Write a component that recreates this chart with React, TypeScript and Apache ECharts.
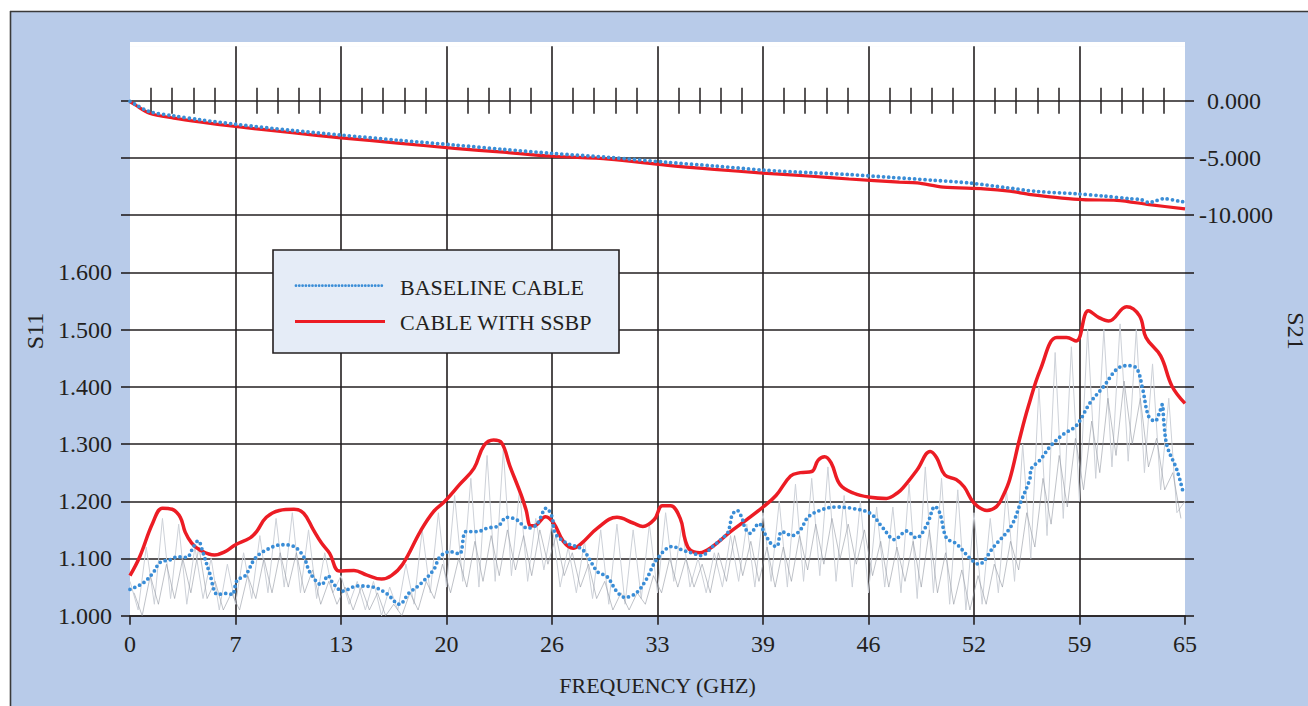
import React, { useEffect, useRef } from "react";
import * as echarts from "echarts";

// ---------- DATA ----------
// S11 – cable with SSBP (red, smooth)
const s11RedFreq = [0, 0.6, 1.4, 2.0, 2.6, 3.1, 3.4, 3.8, 4.3, 5.2, 5.8, 6.5, 7.4, 7.8, 8.4, 9.2, 10.1, 10.7, 11.3, 11.8, 12.3, 12.9, 13.8, 14.6, 15.5, 16.1, 16.8, 17.9, 18.7, 19.4, 20.3, 21.2, 21.8, 22.4, 22.9, 23.4, 24.1, 24.4, 24.7, 25.0, 25.6, 26.1, 26.7, 27.3, 27.8, 28.8, 30.0, 31.0, 31.6, 32.3, 32.8, 33.3, 33.9, 34.2, 34.5, 35.1, 35.9, 37.0, 38.0, 39.0, 39.8, 40.7, 41.3, 42.0, 42.4, 42.8, 43.2, 43.75, 44.6, 45.6, 46.6, 47.3, 47.7, 48.5, 49.3, 49.7, 50.2, 50.9, 51.4, 52.0, 52.8, 53.4, 53.8, 54.2, 54.8, 55.35, 56.1, 57.1, 57.7, 58.3, 59.05, 59.7, 60.3, 61.4, 62.2, 62.6, 63.5, 64.2, 65.0];
const s11RedVal = [1.070, 1.103, 1.162, 1.188, 1.186, 1.172, 1.146, 1.127, 1.115, 1.106, 1.111, 1.124, 1.136, 1.147, 1.172, 1.184, 1.186, 1.179, 1.150, 1.127, 1.109, 1.078, 1.079, 1.071, 1.064, 1.070, 1.090, 1.148, 1.182, 1.200, 1.229, 1.258, 1.297, 1.307, 1.302, 1.262, 1.211, 1.185, 1.157, 1.158, 1.173, 1.162, 1.130, 1.118, 1.126, 1.153, 1.172, 1.162, 1.156, 1.168, 1.192, 1.192, 1.170, 1.133, 1.115, 1.110, 1.121, 1.147, 1.168, 1.190, 1.210, 1.244, 1.250, 1.252, 1.272, 1.278, 1.267, 1.229, 1.214, 1.207, 1.205, 1.215, 1.226, 1.255, 1.287, 1.276, 1.246, 1.238, 1.225, 1.197, 1.184, 1.191, 1.210, 1.238, 1.308, 1.366, 1.431, 1.486, 1.486, 1.480, 1.533, 1.521, 1.515, 1.540, 1.524, 1.486, 1.454, 1.401, 1.371];

// S11 – baseline cable (blue, dotted)
const s11BlueFreq = [0, 0.8, 1.4, 1.85, 2.5, 2.9, 3.5, 3.9, 4.2, 4.5, 4.9, 5.4, 6.0, 6.3, 6.6, 7.1, 7.7, 8.4, 9.35, 10.1, 10.7, 11.1, 11.8, 12.2, 12.5, 13.1, 14.0, 15.0, 15.8, 16.6, 17.2, 17.8, 18.7, 19.1, 19.7, 20.3, 20.7, 21.4, 22.0, 22.7, 23.2, 23.8, 24.5, 25.05, 25.65, 26.0, 26.2, 26.9, 27.9, 28.8, 29.4, 30.0, 30.5, 31.2, 31.8, 32.45, 33.4, 34.1, 34.7, 35.2, 35.9, 36.8, 36.95, 37.1, 37.4, 37.7, 37.9, 38.2, 38.75, 39.1, 39.55, 39.85, 40.15, 40.8, 41.3, 41.8, 42.7, 43.5, 44.4, 45.6, 46.4, 47.1, 47.85, 48.45, 49.1, 49.6, 49.9, 50.3, 50.9, 51.8, 52.3, 53.2, 54.3, 54.9, 55.45, 55.5, 56.1, 56.7, 57.5, 58.3, 59.15, 60.0, 60.8, 61.4, 62.0, 62.4, 62.75, 63.15, 63.45, 63.6, 63.7, 63.9, 64.5, 64.9];
const s11BlueVal = [1.046, 1.057, 1.074, 1.093, 1.098, 1.103, 1.102, 1.120, 1.131, 1.110, 1.075, 1.037, 1.039, 1.037, 1.062, 1.070, 1.100, 1.115, 1.124, 1.121, 1.103, 1.075, 1.054, 1.070, 1.057, 1.043, 1.052, 1.050, 1.039, 1.020, 1.040, 1.053, 1.080, 1.103, 1.112, 1.108, 1.147, 1.147, 1.153, 1.157, 1.172, 1.168, 1.153, 1.159, 1.188, 1.173, 1.144, 1.127, 1.115, 1.077, 1.068, 1.042, 1.032, 1.040, 1.063, 1.098, 1.121, 1.114, 1.109, 1.105, 1.121, 1.144, 1.156, 1.176, 1.184, 1.171, 1.153, 1.144, 1.161, 1.144, 1.124, 1.121, 1.147, 1.140, 1.150, 1.173, 1.186, 1.190, 1.188, 1.179, 1.153, 1.133, 1.148, 1.136, 1.159, 1.191, 1.179, 1.136, 1.126, 1.099, 1.090, 1.120, 1.157, 1.200, 1.240, 1.255, 1.273, 1.296, 1.317, 1.332, 1.372, 1.401, 1.431, 1.437, 1.433, 1.395, 1.349, 1.340, 1.357, 1.369, 1.337, 1.296, 1.255, 1.214];

// S21 (right axis, dB)
const s21BlueFreq = [0, 0.3, 1.2, 2.7, 4.3, 6.5, 10, 13, 16.5, 20, 23, 26, 29.5, 33, 36, 39, 42, 44.3, 46.8, 49.5, 51.8, 54, 55.9, 58.3, 60, 61.6, 62.3, 62.8, 63.2, 63.7, 64.7, 65];
const s21BlueVal = [-0.05, -0.3, -0.95, -1.32, -1.66, -2.05, -2.6, -3.0, -3.45, -3.87, -4.25, -4.6, -4.95, -5.37, -5.7, -6.06, -6.3, -6.45, -6.69, -6.95, -7.2, -7.6, -7.93, -8.13, -8.33, -8.56, -8.65, -8.9, -8.75, -8.56, -8.79, -8.85];
const s21RedFreq = [0, 0.3, 1.2, 2.7, 4.3, 6.5, 10, 13, 16.5, 20, 23, 26, 29.5, 33, 36, 39, 42, 44.3, 47.4, 48.5, 50.1, 52.6, 54.2, 55.5, 58.7, 60.8, 62.8, 65];
const s21RedVal = [-0.1, -0.35, -1.09, -1.52, -1.86, -2.25, -2.8, -3.24, -3.7, -4.16, -4.5, -4.85, -5.1, -5.63, -6.0, -6.32, -6.6, -6.84, -7.12, -7.18, -7.55, -7.7, -7.9, -8.2, -8.65, -8.7, -9.08, -9.45];

// Raw measured S11 traces (grey), sampled every 0.5 GHz
const RAW_STEP = 0.5;
const rawLightStart = 0;
const rawLightVal = [
  1.06, 1.01, 1.12, 1.02, 1.17, 1.03, 1.16, 1.02, 1.12, 1.03, 1.10, 1.01, 1.09, 1.02, 1.11, 1.03,
  1.14, 1.04, 1.17, 1.05, 1.18, 1.04, 1.15, 1.03, 1.11, 1.04, 1.07, 1.02, 1.06, 1.01, 1.06, 1.00,
  1.05, 1.01, 1.09, 1.02, 1.15, 1.04, 1.18, 1.05, 1.21, 1.06, 1.24, 1.05, 1.28, 1.06, 1.29, 1.07,
  1.22, 1.06, 1.17, 1.08, 1.16, 1.05, 1.12, 1.04, 1.13, 1.03, 1.15, 1.02, 1.16, 1.02, 1.15, 1.03,
  1.16, 1.04, 1.18, 1.06, 1.16, 1.05, 1.10, 1.04, 1.11, 1.05, 1.14, 1.06, 1.16, 1.05, 1.18, 1.06,
  1.20, 1.05, 1.23, 1.06, 1.24, 1.07, 1.26, 1.06, 1.21, 1.05, 1.20, 1.04, 1.19, 1.05, 1.19, 1.04,
  1.23, 1.03, 1.26, 1.04, 1.24, 1.02, 1.22, 1.01, 1.18, 1.02, 1.17, 1.04, 1.22, 1.06, 1.30, 1.10,
  1.40, 1.14, 1.46, 1.17, 1.47, 1.20, 1.50, 1.24, 1.50, 1.26, 1.51, 1.27, 1.50, 1.25, 1.44, 1.22,
  1.38, 1.18, 1.20,
];
const rawDarkStart = 0.25;
const rawDarkVal = [
  1.04, 1.00, 1.07, 1.02, 1.09, 1.03, 1.10, 1.04, 1.12, 1.03, 1.06, 1.01, 1.04, 1.01, 1.07, 1.03,
  1.10, 1.04, 1.11, 1.05, 1.11, 1.04, 1.08, 1.02, 1.06, 1.02, 1.05, 1.01, 1.05, 1.01, 1.04, 1.00,
  1.02, 1.00, 1.04, 1.01, 1.06, 1.03, 1.09, 1.04, 1.10, 1.05, 1.13, 1.06, 1.14, 1.07, 1.15, 1.08,
  1.14, 1.07, 1.15, 1.09, 1.14, 1.07, 1.11, 1.05, 1.09, 1.03, 1.06, 1.01, 1.04, 1.01, 1.04, 1.02,
  1.07, 1.04, 1.10, 1.05, 1.10, 1.05, 1.09, 1.04, 1.11, 1.06, 1.14, 1.07, 1.13, 1.06, 1.12, 1.05,
  1.12, 1.06, 1.14, 1.08, 1.16, 1.09, 1.17, 1.10, 1.16, 1.09, 1.15, 1.07, 1.13, 1.05, 1.12, 1.06,
  1.13, 1.05, 1.15, 1.04, 1.11, 1.02, 1.08, 1.01, 1.07, 1.02, 1.09, 1.05, 1.13, 1.08, 1.18, 1.12,
  1.24, 1.16, 1.28, 1.19, 1.31, 1.22, 1.34, 1.25, 1.38, 1.28, 1.41, 1.30, 1.38, 1.26, 1.31, 1.22,
  1.25, 1.17,
];

// Axis ranges / ticks
const freqMin = 0;
const freqMax = 65;
const freqInterval = 6.5;
const minorPerMajor = 5;
const s11Min = 1.0;
const s11Max = 1.995;
const s11GridMax = 1.9;
const s21Min = -45;
const s21Max = 4.75;
const s11LabelValues = [1.0, 1.1, 1.2, 1.3, 1.4, 1.5, 1.6];
const s21LabelValues = [0, -5, -10];

const legendNames = ["BASELINE CABLE", "CABLE WITH SSBP"];

// ---------- STYLE ----------
const DARK = "#231f20";
const BLUE = "#3a8dd6";
const RED = "#ec1c24";
const FRAME_BLUE = "#b8cbe9";
const SERIF = '"Liberation Serif", "Times New Roman", serif';

const zip = (xs: number[], ys: number[]) => xs.map((x, i) => [x, ys[i]]);
const sampled = (start: number, vals: number[]) => vals.map((v, i) => [start + i * RAW_STEP, v]);

// minor tick positions between the major frequency gridlines
const minorTickValues: number[] = [];
for (let m = freqMin; m < freqMax - 1e-9; m += freqInterval) {
  for (let j = 1; j < minorPerMajor; j++) {
    minorTickValues.push(Math.round((m + (j * freqInterval) / minorPerMajor) * 100) / 100);
  }
}

export default function App() {
  const ref = useRef<HTMLDivElement>(null);

  useEffect(() => {
    document.body.style.margin = "0";
    if (!ref.current) return;
    const chart = echarts.init(ref.current, undefined, { renderer: "svg" });

    const W = 1308;
    const H = 706;
    const gridLeft = 130;
    const gridRight = 123;
    const gridBottom = 90.3;
    const baseY = H - gridBottom; // y of S11 = 1.0
    const unitPx = 572.2; // pixels per 1.0 of S11
    const gridTop = baseY - (s11Max - s11Min) * unitPx;
    const plotW = W - gridLeft - gridRight;
    const zeroS21Y = baseY - (s11GridMax - s11Min) * unitPx;

    const tickLine = { color: DARK, width: 1.6 };
    const gridCommon = { left: gridLeft, right: gridRight, outerBoundsMode: "none", containLabel: false };

    const minorAxis = (gridIndex: number, position: string) => ({
      type: "value",
      gridIndex,
      min: freqMin,
      max: freqMax,
      interval: freqInterval / minorPerMajor,
      position,
      axisLine: { show: false },
      axisTick: { show: true, inside: false, length: 13, customValues: minorTickValues, lineStyle: { color: DARK, width: 1.5 } },
      axisLabel: { show: false },
      splitLine: { show: false },
    });

    const option: any = {
      animation: false,
      backgroundColor: FRAME_BLUE,
      grid: [
        // 0: main data grid
        { ...gridCommon, top: gridTop, bottom: gridBottom, show: true, backgroundColor: "#ffffff", borderWidth: 0 },
        // 1: S11 1.0 – 1.9 span, carries the horizontal gridlines and side ticks
        { ...gridCommon, top: zeroS21Y, bottom: gridBottom, show: false },
        // 2: ends on the S21 = 0 line (downward minor ticks)
        { ...gridCommon, top: 0, bottom: H - zeroS21Y, show: false },
      ],
      xAxis: [
        {
          type: "value",
          gridIndex: 0,
          min: freqMin,
          max: freqMax,
          interval: freqInterval,
          position: "bottom",
          name: "FREQUENCY (GHZ)",
          nameLocation: "middle",
          nameGap: 59,
          nameTextStyle: { fontFamily: SERIF, fontSize: 22, color: DARK },
          axisLine: { show: true, onZero: false, lineStyle: tickLine },
          axisTick: { show: true, length: 9, lineStyle: tickLine },
          axisLabel: {
            formatter: (v: number) => String(Math.round(v)),
            fontFamily: SERIF,
            fontSize: 24,
            color: DARK,
            margin: 16,
            showMinLabel: true,
            showMaxLabel: true,
          },
          splitLine: { show: true, showMinLine: false, showMaxLine: false, lineStyle: tickLine },
        },
        minorAxis(1, "top"),
        minorAxis(2, "bottom"),
      ],
      yAxis: [
        // 0: S11 data + labels
        {
          type: "value",
          gridIndex: 0,
          position: "left",
          min: s11Min,
          max: s11Max,
          interval: 0.1,
          name: "S11",
          nameLocation: "middle",
          nameRotate: 90,
          nameGap: 76,
          nameTextStyle: { fontFamily: SERIF, fontSize: 24, color: DARK },
          axisLine: { show: false },
          axisTick: { show: false },
          axisLabel: {
            customValues: s11LabelValues,
            formatter: (v: number) => v.toFixed(3),
            fontFamily: SERIF,
            fontSize: 24,
            color: DARK,
            margin: 18,
          },
          splitLine: { show: false },
        },
        // 1: S21 data + labels
        {
          type: "value",
          gridIndex: 0,
          position: "right",
          min: s21Min,
          max: s21Max,
          interval: 5,
          name: "S21",
          nameLocation: "middle",
          nameRotate: -90,
          nameGap: 95,
          nameTextStyle: { fontFamily: SERIF, fontSize: 24, color: DARK },
          axisLine: { show: false },
          axisTick: { show: false },
          axisLabel: {
            customValues: s21LabelValues,
            formatter: (v: number) => (v === 0 ? "{z|0.000}" : v.toFixed(3)),
            rich: { z: { fontFamily: SERIF, fontSize: 24, color: DARK, padding: [0, 0, 0, 8] } },
            fontFamily: SERIF,
            fontSize: 24,
            color: DARK,
            margin: 14,
          },
          splitLine: { show: false },
        },
        // 2: gridlines + left ticks (S11 1.0 – 1.9)
        {
          type: "value",
          gridIndex: 1,
          position: "left",
          min: s11Min,
          max: s11GridMax,
          interval: 0.1,
          axisLine: { show: false },
          axisTick: { show: true, length: 9, lineStyle: tickLine },
          axisLabel: { show: false },
          splitLine: { show: true, lineStyle: tickLine },
        },
        // 3: right ticks
        {
          type: "value",
          gridIndex: 1,
          position: "right",
          min: s11Min,
          max: s11GridMax,
          interval: 0.1,
          axisLine: { show: false },
          axisTick: { show: true, length: 9, lineStyle: tickLine },
          axisLabel: { show: false },
          splitLine: { show: false },
        },
        { type: "value", gridIndex: 2, min: 0, max: 1, show: false },
      ],
      series: [
        {
          name: "raw light",
          type: "line",
          xAxisIndex: 0,
          yAxisIndex: 0,
          data: sampled(rawLightStart, rawLightVal),
          showSymbol: false,
          symbol: "none",
          silent: true,
          lineStyle: { color: "#cdd1d8", width: 1 },
          z: 1,
        },
        {
          name: "raw dark",
          type: "line",
          xAxisIndex: 0,
          yAxisIndex: 0,
          data: sampled(rawDarkStart, rawDarkVal),
          showSymbol: false,
          symbol: "none",
          silent: true,
          lineStyle: { color: "#959aa3", width: 1, opacity: 0.6 },
          z: 1,
        },
        {
          name: legendNames[1] + " S21",
          type: "line",
          xAxisIndex: 0,
          yAxisIndex: 1,
          data: zip(s21RedFreq, s21RedVal),
          smooth: 0.3,
          showSymbol: false,
          symbol: "none",
          lineStyle: { color: RED, width: 3.2 },
          z: 3,
        },
        {
          name: legendNames[0] + " S21",
          type: "line",
          xAxisIndex: 0,
          yAxisIndex: 1,
          data: zip(s21BlueFreq, s21BlueVal),
          smooth: 0.3,
          showSymbol: false,
          symbol: "none",
          lineStyle: { color: BLUE, width: 3.8, type: [0, 5.2], cap: "round" },
          z: 4,
        },
        {
          name: legendNames[1],
          type: "line",
          xAxisIndex: 0,
          yAxisIndex: 0,
          data: zip(s11RedFreq, s11RedVal),
          smooth: 0.4,
          showSymbol: false,
          symbol: "none",
          lineStyle: { color: RED, width: 3.5 },
          z: 3,
        },
        {
          name: legendNames[0],
          type: "line",
          xAxisIndex: 0,
          yAxisIndex: 0,
          data: zip(s11BlueFreq, s11BlueVal),
          smooth: 0.35,
          showSymbol: false,
          symbol: "none",
          lineStyle: { color: BLUE, width: 3.8, type: [0, 5.2], cap: "round" },
          z: 4,
        },
      ],
      graphic: [
        { type: "rect", silent: true, z: 50, shape: { x: 0, y: 0, width: W, height: 11 }, style: { fill: "#ffffff" } },
        { type: "rect", silent: true, z: 50, shape: { x: 0, y: 0, width: 10, height: H }, style: { fill: "#ffffff" } },
        { type: "line", silent: true, z: 51, shape: { x1: 10, y1: 11.5, x2: W, y2: 11.5 }, style: { stroke: "#3a3a3a", lineWidth: 1.6 } },
        { type: "line", silent: true, z: 51, shape: { x1: 10.5, y1: 11, x2: 10.5, y2: H }, style: { stroke: "#3a3a3a", lineWidth: 1.6 } },
        { type: "rect", silent: true, z: 0, shape: { x: gridLeft, y: 42, width: plotW, height: gridTop - 42 + 0.5 }, style: { fill: "#ffffff" } },
        {
          type: "group",
          z: 60,
          children: [
            { type: "rect", z: 60, shape: { x: 273, y: 250, width: 346, height: 103 }, style: { fill: "#e5ecf7", stroke: DARK, lineWidth: 1.6 } },
            { type: "line", z: 61, shape: { x1: 296, y1: 285.7, x2: 385, y2: 285.7 }, style: { stroke: BLUE, lineWidth: 2.8, lineDash: [0, 3.3], lineCap: "round" } },
            { type: "line", z: 61, shape: { x1: 295, y1: 321.5, x2: 385, y2: 321.5 }, style: { stroke: RED, lineWidth: 3.2 } },
            { type: "text", z: 61, x: 400, y: 287, style: { text: legendNames[0], fontFamily: SERIF, fontSize: 22, fill: DARK, align: "left", verticalAlign: "middle" } },
            { type: "text", z: 61, x: 400, y: 322, style: { text: legendNames[1], fontFamily: SERIF, fontSize: 22, fill: DARK, align: "left", verticalAlign: "middle" } },
          ],
        },
      ],
    };

    chart.setOption(option);
    return () => chart.dispose();
  }, []);

  return <div ref={ref} style={{ width: 1308, height: 706 }} />;
}
